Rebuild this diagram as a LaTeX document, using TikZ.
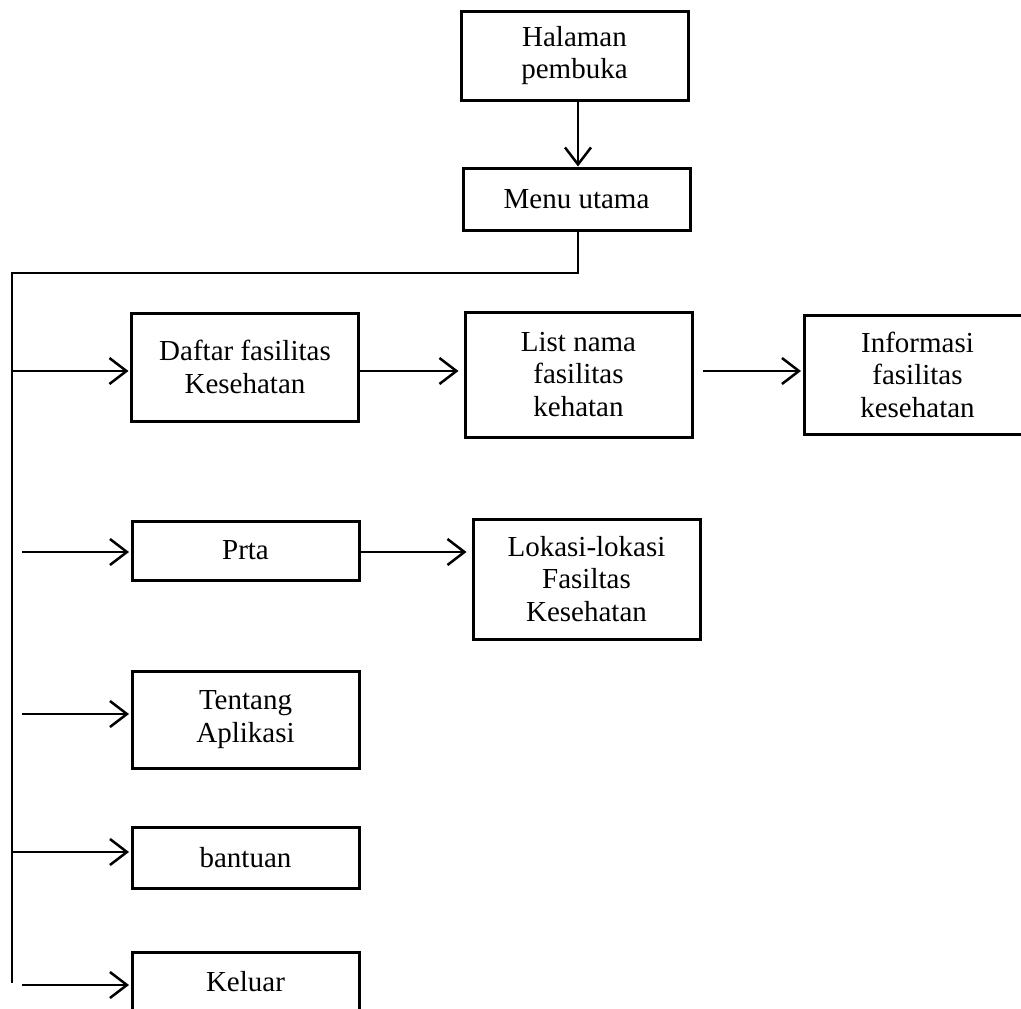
\documentclass[tikz,border=0pt]{standalone}
\usepackage{fontspec}
\setmainfont{Liberation Serif}
\usetikzlibrary{arrows.meta,calc}
\begin{document}
\begin{tikzpicture}[x=1pt,y=-1pt,
  box/.style={draw,line width=3pt,minimum width=227pt,inner sep=0pt,
    align=center,font=\fontsize{29}{32.5}\selectfont},
  arr/.style={line width=2.5pt,-{Straight Barb[length=17pt,width=26pt,line width=2.5pt]}},
  bus/.style={line width=1.4pt}]
\useasboundingbox (0,0) rectangle (1021,1009);
% menu boxes
\node[box,minimum height=89pt]  (hal)     at (574.5,55.5) {Halaman\\pembuka};
\node[box,minimum height=62pt]  (menu)    at (576.5,199)  {Menu utama};
\node[box,minimum height=108pt] (daftar)  at (245,367)    {Daftar fasilitas\\Kesehatan};
\node[box,minimum height=125pt] (list)    at (578.5,374.5){List nama\\fasilitas\\kehatan};
\node[box,minimum height=119pt] (info)    at (917.5,374.5){Informasi\\fasilitas\\kesehatan};
\node[box,minimum height=59pt]  (prta)    at (245.5,550.5){Prta};
\node[box,minimum height=120pt] (lokasi)  at (586.5,579)  {Lokasi-lokasi\\Fasiltas\\Kesehatan};
\node[box,minimum height=97pt]  (tentang) at (245.5,719.5){Tentang\\Aplikasi};
\node[box,minimum height=61pt]  (bantuan) at (245.5,857.5){bantuan};
\node[box,minimum height=60pt]  (keluar)  at (245.5,982)  {Keluar};
% bus from the main menu
\coordinate (drop) at (578,273);
\coordinate (corner) at (12,273);
\coordinate (busend) at (12,983);
\draw[bus] ([xshift=1.5pt]menu.south) -- (drop) -- (corner) -- (busend);
% branch starts
\coordinate (b1) at (12,371);
\coordinate (b2) at (22,552);
\coordinate (b3) at (22,714);
\coordinate (b4) at (12,852);
\coordinate (b5) at (22,985);
% connectors
\draw[arr] ([xshift=3.5pt]hal.south) -- ([xshift=1.5pt]menu.north);
\draw[arr,shorten >=1.5pt] (b1) -- (b1 -| daftar.west);
\draw[arr,shorten >=5pt] (b1 -| daftar.east) -- (b1 -| list.west);
\draw[arr,shorten <=9pt,shorten >=1.5pt] (b1 -| list.east) -- (b1 -| info.west);
\draw[arr,shorten >=1.5pt] (b2) -- (b2 -| prta.west);
\draw[arr,shorten >=5pt] (b2 -| prta.east) -- (b2 -| lokasi.west);
\draw[arr,shorten >=1.5pt] (b3) -- (b3 -| tentang.west);
\draw[arr,shorten >=1.5pt] (b4) -- (b4 -| bantuan.west);
\draw[arr,shorten >=1.5pt] (b5) -- (b5 -| keluar.west);
\end{tikzpicture}
\end{document}
